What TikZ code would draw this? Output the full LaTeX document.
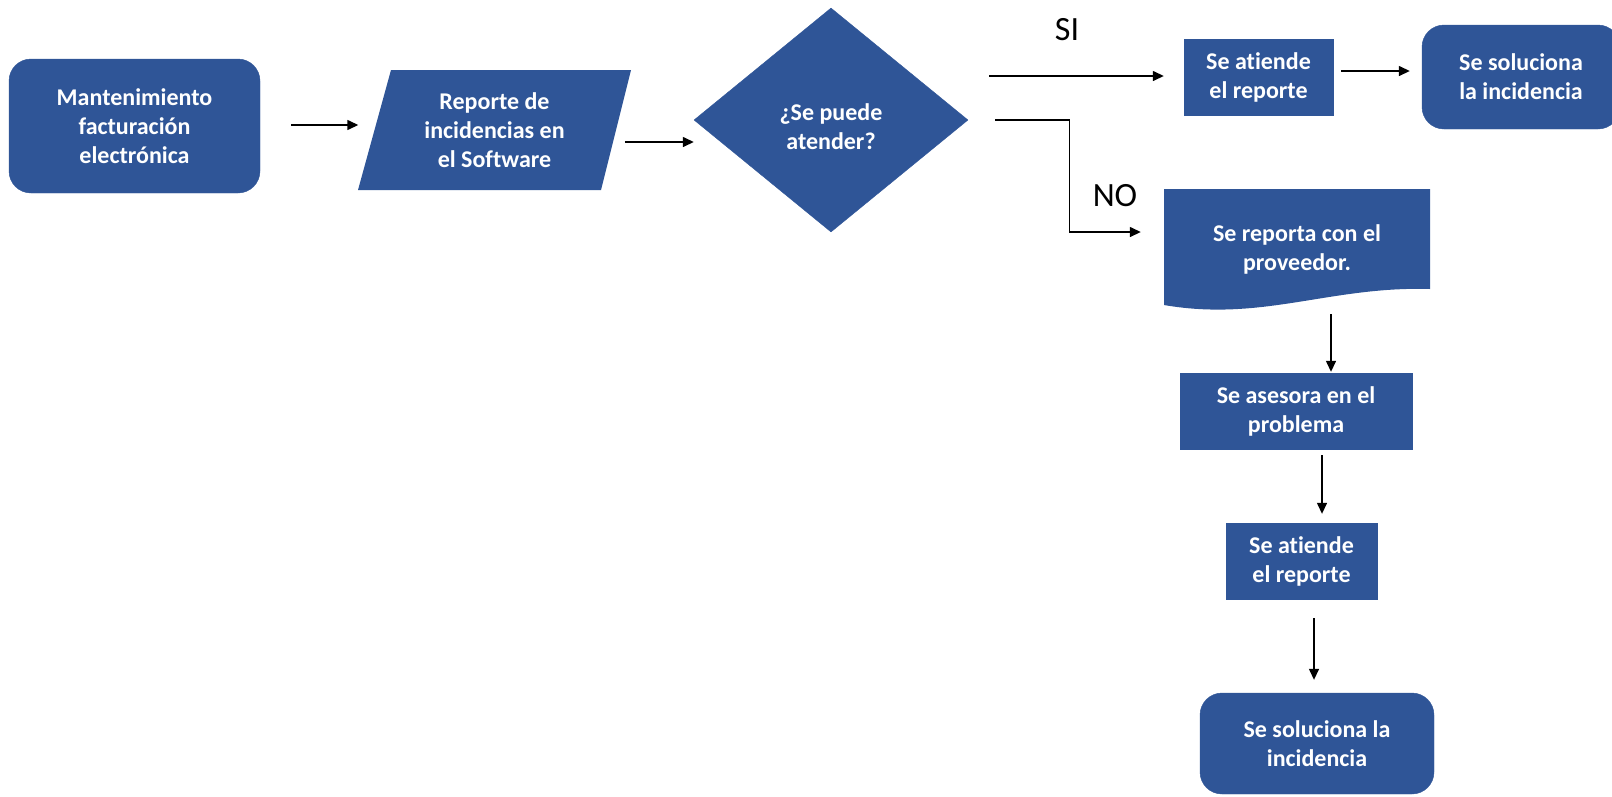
\documentclass[tikz,border=0pt]{standalone}
\usepackage{fontspec}
\setmainfont[Ligatures=CommonOff]{Carlito}
\usetikzlibrary{arrows.meta,shapes.geometric,calc}
\definecolor{boxblue}{HTML}{2F5597}
\tikzset{
  box/.style={fill=boxblue, draw=boxblue, text=white, font=\bfseries\fontsize{24}{29}\selectfont, align=center, inner sep=0pt},
  rbox/.style={box, rounded corners=22pt},
  txt/.style={text=white, font=\bfseries\fontsize{24}{29}\selectfont, align=center, inner sep=0pt},
  conn/.style={-{Triangle[length=11pt,width=10pt]}, line width=1.4pt},
  lbl/.style={font=\fontsize{34}{40}\selectfont, inner sep=0pt}
}
\begin{document}
\begin{tikzpicture}[x=1pt,y=-1pt]
\useasboundingbox (0,0) rectangle (1612,796);

% start
\node[rbox, minimum width=251pt, minimum height=134pt] (mant) at (134.5,126) {Mantenimiento\\facturaci\'on\\electr\'onica};

% parallelogram
\fill[boxblue] (391,70) -- (631,70) -- (601,190) -- (358,190) -- cycle;
\node[txt, minimum width=240pt, minimum height=120pt] (rep) at (494.5,130) {Reporte de\\incidencias en\\el Software};

% decision
\node[box, shape=diamond, minimum width=274pt, minimum height=224pt] (dia) at (831,120) {};
\node[txt] (diatxt) at (831,127) {¿Se puede\\atender?};

% SI branch
\node[box, minimum width=149pt, minimum height=76pt] (se1) at (1258.5,77) {Se atiende\\el reporte};
\node[rbox, minimum width=198pt, minimum height=104pt] (sol1) at (1521,77) {Se soluciona\\la incidencia};

% document shape
\fill[boxblue] (1164,189) -- (1430,189) -- (1430,289)
  .. controls (1330,286) and (1262,322) .. (1164,305) -- cycle;
\node[txt, minimum width=266pt, minimum height=120pt] (prov) at (1297,249) {Se reporta con el\\proveedor.};

\node[box, minimum width=232pt, minimum height=76pt] (ases) at (1296,411) {Se asesora en el\\problema};
\node[box, minimum width=151pt, minimum height=76pt] (se2) at (1301.5,561) {Se atiende\\el reporte};
\node[rbox, minimum width=234pt, minimum height=101pt] (sol2) at (1317,743.5) {Se soluciona la\\incidencia};

% labels
\node[lbl] (si) at (1067,30) {SI};
\node[lbl] (no) at (1115,196) {NO};

% connectors
\draw[conn] ($(mant.east)+(31,-1)$) -- ($(rep.west)+(-16,-5)$);
\draw[conn] ($(dia.west)+(-69,22)$) -- ($(dia.west)+(0,22)$);
\draw[conn] ($(dia.east)+(21,-44)$) -- ($(se1.west)+(-20,-1)$);
\draw[conn] ($(se1.east)+(8,-6)$) -- ($(sol1.west)+(-12,-6)$);
\draw[conn] ($(dia.east)+(27,0)$) -- ($(dia.east)+(101,0)$) |- ($(prov.west)+(-23,-17)$);
\draw[conn] ($(prov.south)+(34,5)$) -- ($(ases.north)+(35,-1)$);
\draw[conn] ($(ases.south)+(26,6)$) -- ($(se2.north)+(20.5,-9)$);
\draw[conn] ($(se2.south)+(12.5,19)$) -- ($(sol2.north)+(-3,-13)$);
\end{tikzpicture}
\end{document}
